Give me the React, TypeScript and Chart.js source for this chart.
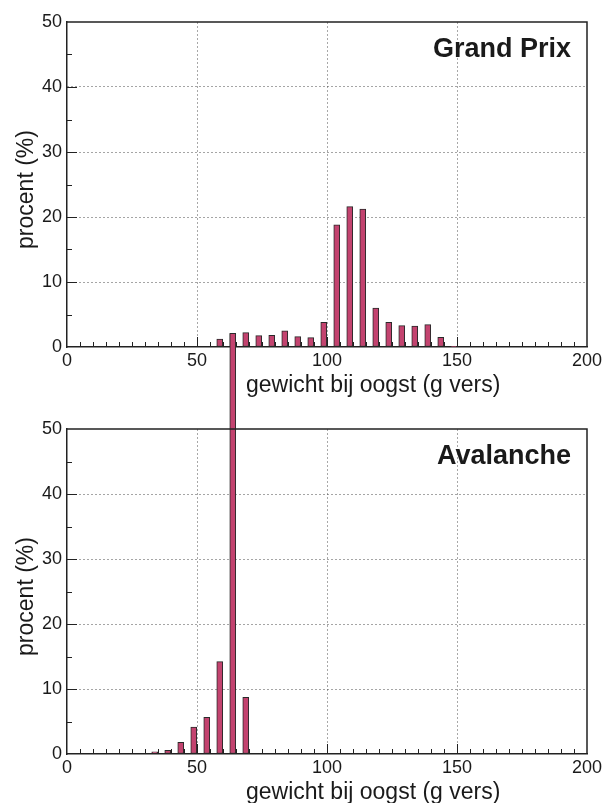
import React, { useEffect, useRef } from 'react';
import { Chart, registerables } from 'chart.js';

Chart.register(...registerables);

// Weight classes (g fresh weight), bar centre of each 5 g class
const binCenters = [
  33.75, 38.75, 43.75, 48.75, 53.75, 58.75, 63.75, 68.75, 73.75, 78.75, 83.75, 88.75,
  93.75, 98.75, 103.75, 108.75, 113.75, 118.75, 123.75, 128.75, 133.75, 138.75, 143.75, 148.75,
];

// Share of heads per weight class (%)
const grandPrixPct = [
  null, null, null, null, null, 1.2, 2.05, 2.2, 1.75, 1.8, 2.5, 1.6,
  1.45, 3.8, 18.8, 21.6, 21.2, 6.0, 3.8, 3.3, 3.2, 3.45, 1.5, 0.1,
];
const avalanchePct = [
  0.35, 0.55, 1.8, 4.15, 5.65, 14.2, 64.7, 8.7, null, null, null, null,
  null, null, null, null, null, null, null, null, null, null, null, null,
];

const xTickValues = [0, 50, 100, 150, 200];
const yTickValues = [0, 10, 20, 30, 40, 50];
const xMinorStep = 5;
const yMinorStep = 5;

const xTitle = 'gewicht bij oogst (g vers)';
const yTitle = 'procent (%)';

const W = 603;
const H = 803;
const FONT = '"Liberation Sans", Arial, Helvetica, sans-serif';
const INK = '#222222';
const BAR_FILL = '#c3436f';
const BAR_EDGE = '#2a2a2a';

type Panel = { name: string; values: (number | null)[]; top: number; bottom: number; axisH: number };

const panels: Panel[] = [
  { name: 'Grand Prix', values: grandPrixPct, top: 22, bottom: 347, axisH: 60 },
  { name: 'Avalanche', values: avalanchePct, top: 429, bottom: 754, axisH: 49 },
];

// Frame, inward tick marks and the text around each panel
const panelDecor = {
  id: 'panelDecor',
  beforeDatasetsDraw(chart: any) {
    const { ctx, chartArea, scales } = chart;
    const { left, bottom } = chartArea;
    const xs = scales.x;
    const ys = scales.y;
    ctx.save();
    ctx.strokeStyle = INK;
    ctx.lineWidth = 1;
    ctx.beginPath();
    for (let v = xs.min + xMinorStep; v < xs.max; v += xMinorStep) {
      const px = Math.round(xs.getPixelForValue(v)) + 0.5;
      const len = xTickValues.includes(v) ? 10 : 5;
      ctx.moveTo(px, bottom);
      ctx.lineTo(px, bottom - len);
    }
    for (let v = ys.min + yMinorStep; v < ys.max; v += yMinorStep) {
      const py = Math.round(ys.getPixelForValue(v)) + 0.5;
      const len = yTickValues.includes(v) ? 10 : 5;
      ctx.moveTo(left, py);
      ctx.lineTo(left + len, py);
    }
    ctx.stroke();
    ctx.restore();
  },
  afterDraw(chart: any, _args: any, opts: any) {
    const { ctx, chartArea } = chart;
    const { left, right, top, bottom } = chartArea;
    ctx.save();
    // top and right frame edges
    ctx.strokeStyle = INK;
    ctx.lineWidth = 1.5;
    ctx.beginPath();
    ctx.moveTo(left, top);
    ctx.lineTo(right, top);
    ctx.lineTo(right, bottom);
    ctx.stroke();

    ctx.fillStyle = '#1a1a1a';
    // panel name
    ctx.font = `bold 27px ${FONT}`;
    ctx.textAlign = 'right';
    ctx.textBaseline = 'alphabetic';
    ctx.fillText(opts.name, right - 16, top + 35);

    // x axis title
    ctx.font = `23px ${FONT}`;
    ctx.textAlign = 'left';
    ctx.fillText(xTitle, left + 179, bottom + 45);

    // y axis title
    ctx.translate(33, (top + bottom) / 2 + 5);
    ctx.rotate(-Math.PI / 2);
    ctx.textAlign = 'center';
    ctx.fillText(yTitle, 0, 0);
    ctx.restore();
  },
};

function makeConfig(panel: Panel): any {
  const points = binCenters
    .map((x, i) => ({ x, y: panel.values[i] }))
    .filter((p) => p.y !== null);
  const edge = (v: number | undefined, lo: number, hi: number) =>
    v === lo || v === hi ? 'rgba(0,0,0,0)' : undefined;
  return {
    type: 'bar',
    data: {
      datasets: [
        {
          data: points,
          backgroundColor: BAR_FILL,
          borderColor: BAR_EDGE,
          borderWidth: 1,
          borderSkipped: false,
          barThickness: 6,
          clip: false,
        },
      ],
    },
    plugins: [panelDecor],
    options: {
      responsive: false,
      animation: false,
      events: [],
      layout: {
        padding: { left: 0, right: 16, top: panel.top, bottom: H - panel.bottom - panel.axisH },
      },
      plugins: {
        legend: { display: false },
        tooltip: { enabled: false },
        panelDecor: { name: panel.name },
      },
      scales: {
        x: {
          type: 'linear',
          offset: false,
          min: xTickValues[0],
          max: xTickValues[xTickValues.length - 1],
          afterBuildTicks: (s: any) => {
            s.ticks = xTickValues.map((value) => ({ value }));
          },
          afterFit: (s: any) => {
            s.height = panel.axisH;
            s.paddingLeft = 0;
            s.paddingRight = 0;
          },
          grid: {
            offset: false,
            drawTicks: false,
            lineWidth: 1,
            color: (c: any) => edge(c.tick?.value, 0, 200) ?? '#a8a8a8',
          },
          border: { display: true, color: INK, width: 1.5, dash: [2, 2] },
          ticks: {
            padding: 3,
            autoSkip: false,
            maxRotation: 0,
            color: '#1a1a1a',
            font: { family: FONT, size: 18 },
          },
        },
        y: {
          type: 'linear',
          min: yTickValues[0],
          max: yTickValues[yTickValues.length - 1],
          afterBuildTicks: (s: any) => {
            s.ticks = yTickValues.map((value) => ({ value }));
          },
          afterFit: (s: any) => {
            s.width = 67;
            s.paddingTop = 0;
            s.paddingBottom = 0;
          },
          grid: {
            drawTicks: false,
            lineWidth: 1,
            color: (c: any) => edge(c.tick?.value, 0, 50) ?? '#4a4a4a',
          },
          border: { display: true, color: INK, width: 1.5, dash: [1, 3] },
          ticks: {
            padding: 5,
            color: '#1a1a1a',
            font: { family: FONT, size: 18 },
          },
        },
      },
    },
  };
}

function PanelCanvas({ panel }: { panel: Panel }) {
  const ref = useRef<HTMLCanvasElement | null>(null);
  useEffect(() => {
    if (!ref.current) return;
    const chart = new Chart(ref.current, makeConfig(panel));
    return () => chart.destroy();
  }, [panel]);
  return (
    <canvas
      ref={ref}
      width={W}
      height={H}
      style={{ position: 'absolute', left: 0, top: 0, width: W, height: H, display: 'block' }}
    />
  );
}

export default function App() {
  return (
    <div style={{ position: 'absolute', left: 0, top: 0, width: W, height: H, background: '#ffffff' }}>
      {panels.map((p) => (
        <PanelCanvas key={p.name} panel={p} />
      ))}
    </div>
  );
}
